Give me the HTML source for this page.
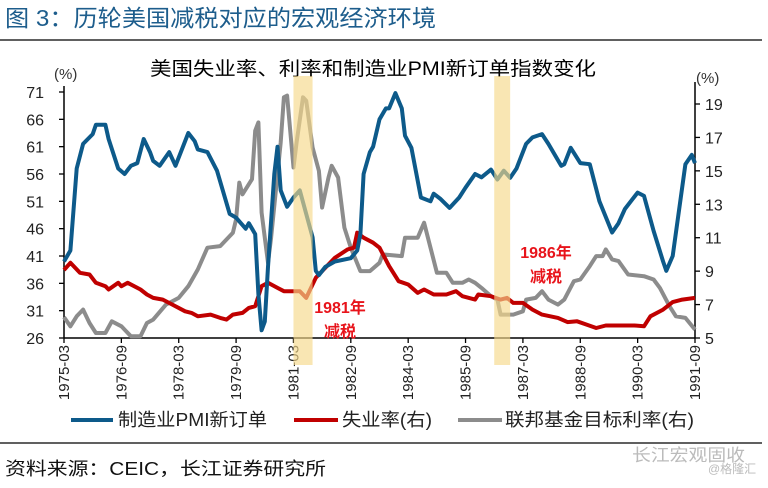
<!DOCTYPE html>
<html><head><meta charset="utf-8"><style>
body{margin:0;background:#fff;}
svg text{font-family:"Liberation Sans","Noto Sans CJK SC",sans-serif;}
</style></head><body>
<svg id="c" width="768" height="483" viewBox="0 0 768 483" xmlns="http://www.w3.org/2000/svg">
<text x="5" y="26" font-size="23" fill="#1d5d8c" textLength="431" lengthAdjust="spacingAndGlyphs">图 3：历轮美国减税对应的宏观经济环境</text>
<line x1="0" y1="40" x2="762" y2="40" stroke="#000" stroke-width="1.2"/>
<text x="150" y="75" font-size="19" fill="#000" textLength="446" lengthAdjust="spacingAndGlyphs">美国失业率、利率和制造业PMI新订单指数变化</text>
<text x="54" y="79" font-size="15" fill="#333">(%)</text>
<text x="696" y="83" font-size="15" fill="#333">(%)</text>
<g id="axes"></g>
<g id="lines"></g>
<g id="bands"></g>
<text x="340" y="313" font-size="16" font-weight="bold" fill="#e8141b" text-anchor="middle">1981年</text>
<text x="340" y="337" font-size="16" font-weight="bold" fill="#e8141b" text-anchor="middle">减税</text>
<text x="546" y="258" font-size="16" font-weight="bold" fill="#e8141b" text-anchor="middle">1986年</text>
<text x="546" y="282" font-size="16" font-weight="bold" fill="#e8141b" text-anchor="middle">减税</text>
<g>
<line x1="71" y1="420" x2="113" y2="420" stroke="#0d5a8a" stroke-width="4"/>
<text x="118" y="426" font-size="18" fill="#222" textLength="149" lengthAdjust="spacingAndGlyphs">制造业PMI新订单</text>
<line x1="294" y1="420" x2="338" y2="420" stroke="#c00000" stroke-width="4"/>
<text x="342" y="426" font-size="18" fill="#222" textLength="90" lengthAdjust="spacingAndGlyphs">失业率(右)</text>
<line x1="458" y1="420" x2="502" y2="420" stroke="#8c8c8c" stroke-width="4"/>
<text x="505" y="426" font-size="18" fill="#222" textLength="189" lengthAdjust="spacingAndGlyphs">联邦基金目标利率(右)</text>
</g>
<line x1="0" y1="443" x2="762" y2="443" stroke="#000" stroke-width="1.2"/>
<text x="5" y="475" font-size="18" fill="#111" textLength="321" lengthAdjust="spacingAndGlyphs">资料来源：CEIC，长江证券研究所</text>
<text x="632" y="461" font-size="17" fill="#bbb" textLength="113" lengthAdjust="spacingAndGlyphs">长江宏观固收</text>
<text x="708" y="473" font-size="12" fill="#bbb">@格隆汇</text>
</svg>
<script>
const xTickLabels=["1975-03","1976-09","1978-03","1979-09","1981-03","1982-09","1984-03","1985-09","1987-03","1988-09","1990-03","1991-09"];
const leftTicks=[26,31,36,41,46,51,56,61,66,71];
const rightTicks=[5,7,9,11,13,15,17,19];
const pmiMonths=[0,2,4,6,9,10,13,14,17,19,21,23,25,27,28,30,33,35,39,41,42,45,48,52,54,57,58,60,61,62,63,64,66,67,68,70,72,74,76,78,79,80,82,85,90,92,93,94,96,97,99,101,102,104,106,107,109,112,115,116,118,121,124,126,129,131,134,136,138,140,142,145,147,150,152,156,157,159,162,165,168,172,174,176,180,182,185,188,189,191,195,197,198];
const pmiValues=[40,42,57,61.5,63.3,65,65,62.4,57,56,57.5,58,62.4,60,58.4,57.5,60,57.5,63.5,62,60.5,60,56.6,48.7,48,46,47,45,34,27.4,29,39,56,61,53,50,51.7,53,48.7,44.4,38.3,37.5,39,40,40.6,42,45,56,60,61,66,68,68,70.8,68,63,60.8,51.7,51,52.4,51.5,49.8,51.7,53.5,56,55.4,56.8,55,56.6,55.3,57,61.5,62.7,63.3,61.5,57.5,57.8,60.8,58,57.8,51,45.3,47,49.6,52.6,52,45.6,40,38.3,41,57.8,59.5,58];
const unempMonths=[0,2,5,8,10,13,14,17,18,20,24,26,28,31,34,38,40,42,46,49,51,53,56,58,60,62,64,67,69,72,74,76,79,82,85,89,91,92,94,97,99,102,105,108,111,113,116,120,123,125,129,130,134,137,139,141,144,147,150,155,158,161,164,167,170,174,179,182,184,188,191,194,198];
const unempValues=[9.07,9.5,8.9,8.8,8.3,8.1,7.9,8.3,8.1,8.3,7.9,7.6,7.4,7.3,7.0,6.6,6.5,6.3,6.4,6.2,6.1,6.4,6.5,6.8,6.9,8.1,8.3,8.0,7.8,7.8,7.8,7.4,8.6,9.2,9.8,10.3,10.4,11.3,11.0,10.7,10.4,9.3,8.4,8.2,7.7,7.9,7.6,7.6,7.8,7.5,7.3,7.6,7.5,7.3,7.4,7.1,7.1,6.7,6.4,6.2,5.95,6.0,5.8,5.6,5.75,5.75,5.75,5.7,6.3,6.7,7.15,7.3,7.4];
const fedMonths=[0,2,4,6,8,10,13,15,18,21,24,26,28,32,36,39,42,45,49,53,54,55,56,59,60,61,62,64,65,68,69,70,72,73,75,76,78,80,81,83,84,86,88,90,93,96,99,100,106,107,111,113,115,117,120,122,125,127,129,131,134,136,137,141,144,145,148,150,152,155,157,160,162,165,167,169,170,172,174,177,182,185,187,190,192,195,198];
const fedValues=[6.25,5.7,6.3,6.7,5.9,5.3,5.3,6.0,5.7,5.1,5.1,5.9,6.1,7.0,7.4,8.1,9.1,10.4,10.5,11.3,12.1,14.3,13.6,14.5,17.4,17.9,12.5,9.5,11.0,16.7,19.4,19.5,15.2,16.7,19.4,19.2,16.4,15.0,12.8,14.6,15.3,14.6,11.6,10.4,9.0,9.0,9.5,10.0,9.9,11.0,11.0,11.9,10.4,8.9,8.9,8.3,8.3,8.5,8.3,8.0,7.5,7.3,6.4,6.4,6.6,7.3,7.4,7.8,7.3,7.0,7.3,8.4,8.5,9.3,9.9,9.9,10.3,9.7,9.6,8.8,8.7,8.5,8.0,6.9,6.3,6.2,5.5];
const bandStartMonths=[72,135];
const bandEndMonths=[78,140];

const NS="http://www.w3.org/2000/svg";
const X0=64,X1=695,MMAX=198,YT=92,YB=338;
const xS=m=>X0+(X1-X0)*m/MMAX;
const yL=v=>YB-(v-26)/(71-26)*(YB-YT);
const yR2=v=>338-(v-5)*(338-104)/14;
function mk(tag,at,parent){const e=document.createElementNS(NS,tag);for(const k in at)e.setAttribute(k,at[k]);parent.appendChild(e);return e;}
const axes=document.getElementById('axes'),lines=document.getElementById('lines'),bands=document.getElementById('bands');
let a=mk('line',{x1:X0,y1:YT-6,x2:X0,y2:YB,stroke:'#000','stroke-width':1.5},axes);


a=mk('line',{x1:X1,y1:YT-10,x2:X1,y2:YB,stroke:'#000','stroke-width':1.5},axes);


a=mk('line',{x1:X0,y1:YB,x2:X1,y2:YB,stroke:'#000','stroke-width':1.5},axes);


leftTicks.forEach(v=>{const y=yL(v);
 const t=mk('line',{x1:X0-5,y1:y,x2:X0,y2:y,stroke:'#000','stroke-width':1.3},axes);
 
 
 const l=mk('text',{x:X0-20,y:y+6,'font-size':16,'text-anchor':'end',fill:'#222'},axes);l.textContent=v;
 
 });
rightTicks.forEach(v=>{const y=yR2(v);
 const t=mk('line',{x1:X1,y1:y,x2:X1+5,y2:y,stroke:'#000','stroke-width':1.3},axes);
 
 
 const l=mk('text',{x:X1+10,y:y+6,'font-size':16,fill:'#222'},axes);l.textContent=v;
 
 });
xTickLabels.forEach((s,i)=>{const x=xS(i*18);
 const t=mk('line',{x1:x,y1:YB,x2:x,y2:YB+5,stroke:'#000','stroke-width':1.3},axes);
 
 
 const l=mk('text',{x:0,y:0,'font-size':15,'text-anchor':'end',fill:'#222',transform:`translate(${x+5},${YB+7}) rotate(-90)`},axes);l.textContent=s;
 
 });
function series(ms,vs,yf,color,name){
 const d=ms.map((m,i)=>(i?'L':'M')+xS(m).toFixed(1)+','+yf(vs[i]).toFixed(1)).join('');
 const p=mk('path',{d:d,fill:'none',stroke:color,'stroke-width':4,'stroke-linejoin':'round'},lines);
 
 }
series(fedMonths,fedValues,yR2,'#8c8c8c','fed-rate-line');
series(unempMonths,unempValues,yR2,'#c00000','unemployment-line');
series(pmiMonths,pmiValues,yL,'#0d5a8a','pmi-line');
bandStartMonths.forEach((s,i)=>{const x=xS(s);
 const b=mk('rect',{x:x,y:76,width:xS(bandEndMonths[i])-x,height:289,fill:'#f6d98a','fill-opacity':0.65},bands);
 
 });
</script>
</body></html>
